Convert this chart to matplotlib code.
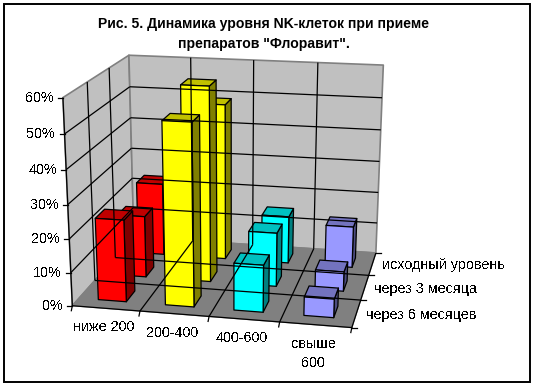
import matplotlib
matplotlib.use("Agg")
import matplotlib.pyplot as plt
import numpy as np
from matplotlib.patches import Polygon, Rectangle

plt.rcParams['font.family'] = ['Liberation Sans', 'DejaVu Sans']
plt.rcParams['text.antialiased'] = False

title = 'Рис. 5. Динамика уровня NK-клеток при приеме\nпрепаратов "Флоравит".'
categories = ['ниже 200', '200-400', '400-600', 'свыше\n600']
series_names = ['через 6 месяцев', 'через 3 месяца', 'исходный уровень']
pct_ticks = [0, 10, 20, 30, 40, 50, 60]

# one list per category: 6 months, 3 months, baseline
red = [24.5, 19, 23]
yellow = [53.5, 59, 49]
cyan = [14, 16.5, 15]
blue = [5.5, 6, 13]
values = [red, yellow, cyan, blue]

# front, side, top
faces = [
    ('#ff0000', '#800000', '#c00000'),
    ('#ffff00', '#808000', '#c0c000'),
    ('#00ffff', '#008080', '#00c0c0'),
    ('#9999ff', '#4c4c80', '#7373bf'),
]

# box corners seen in the picture -> fit a camera matrix
box = np.array([
    [0, 0, 0], [4, 0, 0], [4, 3, 0], [0, 3, 0],
    [0, 0, 60], [0, 3, 60], [4, 3, 60],
], dtype=float)
pix = np.array([
    [73, 303], [352, 330], [376, 250], [133, 240],
    [62, 98], [130, 54], [383, 66],
], dtype=float)

A = []
b = []
for (x, y, z), (u, v) in zip(box, pix):
    A.append([x, y, z, 1, 0, 0, 0, 0, -u * x, -u * y, -u * z])
    A.append([0, 0, 0, 0, x, y, z, 1, -v * x, -v * y, -v * z])
    b += [u, v]
cam = np.linalg.lstsq(np.array(A), np.array(b), rcond=None)[0]
cam = np.append(cam, 1).reshape(3, 4)


def proj(x, y, z):
    p = cam @ np.array([x, y, z, 1.0])
    return p[0] / p[2], p[1] / p[2]


fig = plt.figure(figsize=(5.33, 3.89), dpi=100)
ax = fig.add_axes([0, 0, 1, 1])
ax.set_xlim(0, 533)
ax.set_ylim(389, 0)
ax.axis('off')

ax.add_patch(Rectangle((3.5, 3.5), 526, 378, fc='white', ec='black', lw=1.4))


def quad(pts, fc, ec='black', lw=0.9):
    ax.add_patch(Polygon([proj(*p) for p in pts], closed=True, fc=fc, ec=ec, lw=lw, joinstyle='round'))


def line(p, q, color='black', lw=0.9):
    a, c = proj(*p), proj(*q)
    ax.plot([a[0], c[0]], [a[1], c[1]], color=color, lw=lw, solid_capstyle='butt')


# walls and floor
quad([(0, 0, 0), (0, 3, 0), (0, 3, 60), (0, 0, 60)], '#c0c0c0', '#808080', 1.2)
quad([(0, 3, 0), (4, 3, 0), (4, 3, 60), (0, 3, 60)], '#c0c0c0', '#808080', 1.2)
quad([(0, 0, 0), (4, 0, 0), (4, 3, 0), (0, 3, 0)], '#808080', '#808080', 1.0)

# grid
for z in pct_ticks[1:-1]:
    line((0, 0, z), (0, 3, z))
    line((0, 3, z), (4, 3, z))
for i in range(1, 4):
    line((i, 3, 0), (i, 3, 60))
    line((i, 0, 0), (i, 3, 0))
for j in range(1, 3):
    line((0, j, 0), (0, j, 60))
    line((0, j, 0), (4, j, 0))
line((0, 0, 0), (4, 0, 0))
line((4, 0, 0), (4, 3, 0))

# axis ticks and labels
line((0, 0, 0), (0, 0, 60))
for z in pct_ticks:
    u, v = proj(0, 0, z)
    ax.plot([u - 5, u], [v, v], color='black', lw=0.9)
    ax.text(u - 9, v, '%d%%' % z, ha='right', va='center', fontsize=10.4)
for i in range(5):
    u, v = proj(i, 0, 0)
    ax.plot([u, u - 1], [v, v + 5], color='black', lw=0.9)
for i, name in enumerate(categories):
    u, v = proj(i + 0.5, 0, 0)
    ax.text(u - 2, v + 12, name, ha='center', va='top', fontsize=10.4, linespacing=1.5)
for j in range(4):
    u, v = proj(4, j, 0)
    ax.plot([u, u + 5], [v, v], color='black', lw=0.9)
for j, name in enumerate(series_names):
    u, v = proj(4, j + 0.5, 0)
    ax.text(u + 9.5, v + 1.5, name, ha='left', va='center', fontsize=10.4)

# bars back to front, left to right
bw = 0.42
bd = 0.42
for j in [2, 1, 0]:
    for i in range(4):
        h = values[i][j]
        x0, x1 = i + 0.5 - bw / 2, i + 0.5 + bw / 2
        y0, y1 = j + 0.5 - bd / 2, j + 0.5 + bd / 2
        front, side, top = faces[i]
        quad([(x1, y0, 0), (x1, y1, 0), (x1, y1, h), (x1, y0, h)], side)
        quad([(x0, y0, h), (x1, y0, h), (x1, y1, h), (x0, y1, h)], top)
        quad([(x0, y0, 0), (x1, y0, 0), (x1, y0, h), (x0, y0, h)], front)

# aliased bold text clips its last glyph, so this one stays antialiased
ax.text(264, 34, title, ha='center', va='center', fontsize=10.1, fontweight='bold',
        linespacing=1.6, antialiased=True)

fig.savefig('out.png', dpi=100)
